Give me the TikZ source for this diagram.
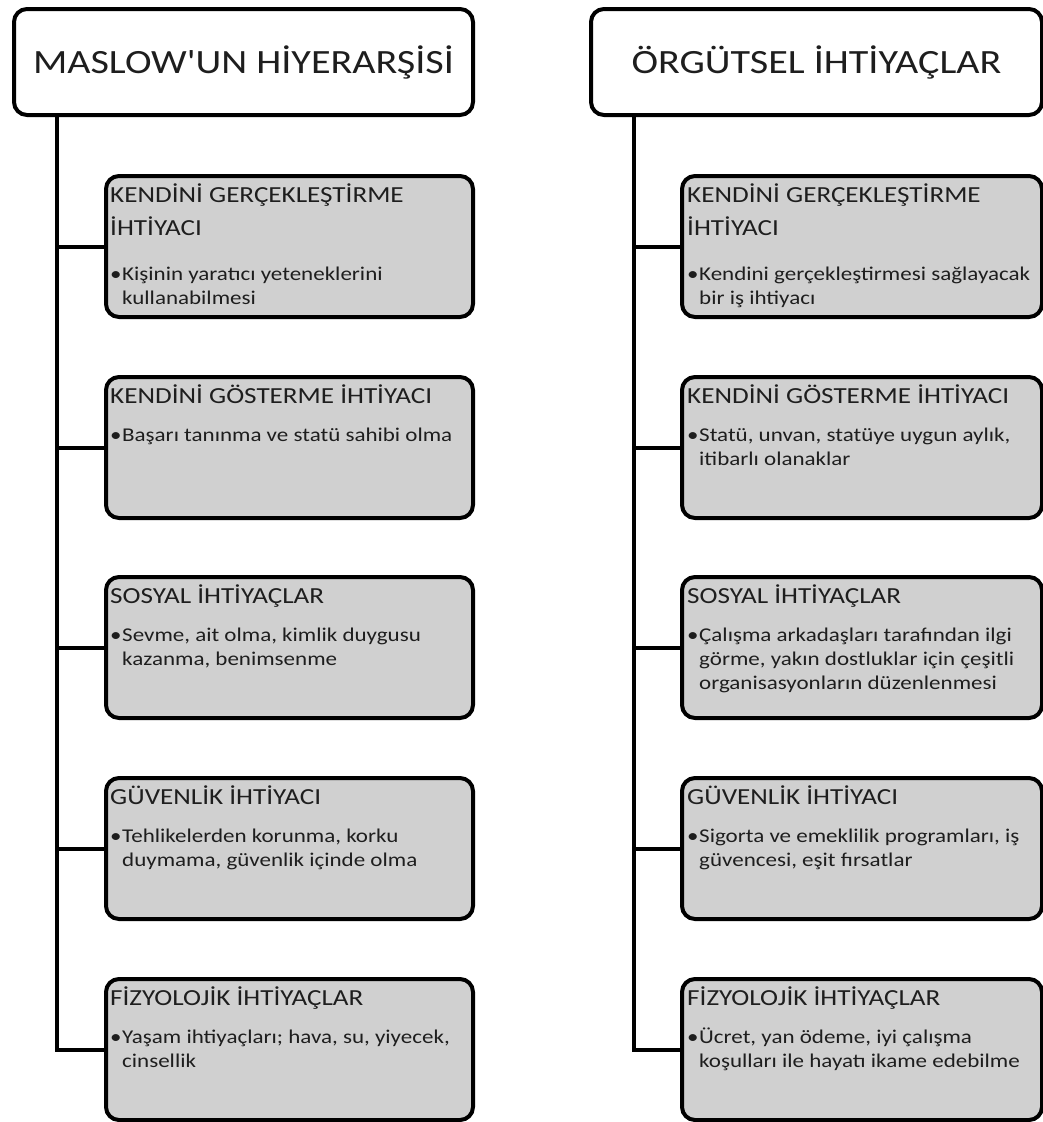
\documentclass[tikz,border=0pt]{standalone}
\usepackage{fontspec}
\setmainfont{Carlito}[FakeStretch=1.18, Ligatures=TeXOff]
\usetikzlibrary{calc}
\definecolor{boxgray}{RGB}{208,208,208}
\definecolor{txt}{RGB}{30,30,30}
\tikzset{
  hdrbox/.style={draw=black, line width=4pt, rounded corners=13pt, fill=white, inner sep=0pt, anchor=north west},
  gbox/.style={draw=black, line width=4pt, rounded corners=13pt, fill=boxgray, inner sep=0pt, anchor=north west, minimum height=141pt},
  conn/.style={draw=black, line width=4pt},
  hdrtxt/.style={text=txt, inner sep=0pt, font=\fontsize{34}{40}\selectfont},
  headtxt/.style={text=txt, inner sep=0pt, anchor=base west, font=\fontsize{23}{33}\selectfont},
  bultxt/.style={text=txt, inner sep=0pt, anchor=base west, font=\fontsize{19.5}{24}\selectfont},
}
\newcommand{\hd}[1]{\parbox[t]{360pt}{\raggedright #1}}
\newcommand{\bl}[1]{\makebox[12pt][l]{•}\parbox[t]{350pt}{\raggedright #1}}
\begin{document}
\begin{tikzpicture}[x=1pt,y=-1pt]
\useasboundingbox (0,0) rectangle (1043,1122);
% headers
\node[hdrbox, minimum width=459pt, minimum height=106pt] (HL) at (12,7) {};
\node[hdrtxt] (HLt) at (HL.center) {MASLOW'UN HİYERARŞİSİ};
\node[hdrbox, minimum width=451pt, minimum height=106pt] (HR) at (589,7) {};
\node[hdrtxt] (HRt) at (HR.center) {ÖRGÜTSEL İHTİYAÇLAR};
% left boxes
\node[gbox, minimum width=367pt] (L1) at (104,174) {};
\node[gbox, minimum width=367pt] (L2) at (104,375) {};
\node[gbox, minimum width=367pt] (L3) at (104,575) {};
\node[gbox, minimum width=367pt] (L4) at (104,776) {};
\node[gbox, minimum width=367pt] (L5) at (104,977) {};
% right boxes
\node[gbox, minimum width=360pt] (R1) at (680,174) {};
\node[gbox, minimum width=360pt] (R2) at (680,375) {};
\node[gbox, minimum width=360pt] (R3) at (680,575) {};
\node[gbox, minimum width=360pt] (R4) at (680,776) {};
\node[gbox, minimum width=360pt] (R5) at (680,977) {};
% spines
\coordinate (sL) at (57,113);
\coordinate (sR) at (634,113);
\draw[conn] (sL) |- (L5.west);
\foreach \b in {L1,L2,L3,L4} \draw[conn] (sL |- \b.west) -- (\b.west);
\draw[conn] (sR) |- (R5.west);
\foreach \b in {R1,R2,R3,R4} \draw[conn] (sR |- \b.west) -- (\b.west);
% left texts
\node[headtxt] (L1h) at ($(L1.north west)+(6,28)$) {\hd{KENDİNİ GERÇEKLEŞTİRME\\İHTİYACI}};
\node[bultxt] (L1b) at ($(L1.north west)+(6,106)$) {\bl{Kişinin yaratıcı yeteneklerini\\kullanabilmesi}};
\node[headtxt] (L2h) at ($(L2.north west)+(6,28)$) {\hd{KENDİNİ GÖSTERME İHTİYACI}};
\node[bultxt] (L2b) at ($(L2.north west)+(6,66)$) {\bl{Başarı tanınma ve statü sahibi olma}};
\node[headtxt] (L3h) at ($(L3.north west)+(6,28)$) {\hd{SOSYAL İHTİYAÇLAR}};
\node[bultxt] (L3b) at ($(L3.north west)+(6,66)$) {\bl{Sevme, ait olma, kimlik duygusu\\kazanma, benimsenme}};
\node[headtxt] (L4h) at ($(L4.north west)+(6,28)$) {\hd{GÜVENLİK İHTİYACI}};
\node[bultxt] (L4b) at ($(L4.north west)+(6,66)$) {\bl{Tehlikelerden korunma, korku\\duymama, güvenlik içinde olma}};
\node[headtxt] (L5h) at ($(L5.north west)+(6,28)$) {\hd{FİZYOLOJİK İHTİYAÇLAR}};
\node[bultxt] (L5b) at ($(L5.north west)+(6,66)$) {\bl{Yaşam ihtiyaçları; hava, su, yiyecek,\\cinsellik}};
% right texts
\node[headtxt] (R1h) at ($(R1.north west)+(7,28)$) {\hd{KENDİNİ GERÇEKLEŞTİRME\\İHTİYACI}};
\node[bultxt] (R1b) at ($(R1.north west)+(7,106)$) {\bl{Kendini gerçekleştirmesi sağlayacak\\bir iş ihtiyacı}};
\node[headtxt] (R2h) at ($(R2.north west)+(7,28)$) {\hd{KENDİNİ GÖSTERME İHTİYACI}};
\node[bultxt] (R2b) at ($(R2.north west)+(7,66)$) {\bl{Statü, unvan, statüye uygun aylık,\\itibarlı olanaklar}};
\node[headtxt] (R3h) at ($(R3.north west)+(7,28)$) {\hd{SOSYAL İHTİYAÇLAR}};
\node[bultxt] (R3b) at ($(R3.north west)+(7,66)$) {\bl{Çalışma arkadaşları tarafından ilgi\\görme, yakın dostluklar için çeşitli\\organisasyonların düzenlenmesi}};
\node[headtxt] (R4h) at ($(R4.north west)+(7,28)$) {\hd{GÜVENLİK İHTİYACI}};
\node[bultxt] (R4b) at ($(R4.north west)+(7,66)$) {\bl{Sigorta ve emeklilik programları, iş\\güvencesi, eşit fırsatlar}};
\node[headtxt] (R5h) at ($(R5.north west)+(7,28)$) {\hd{FİZYOLOJİK İHTİYAÇLAR}};
\node[bultxt] (R5b) at ($(R5.north west)+(7,66)$) {\bl{Ücret, yan ödeme, iyi çalışma\\koşulları ile hayatı ikame edebilme}};
\end{tikzpicture}
\end{document}
